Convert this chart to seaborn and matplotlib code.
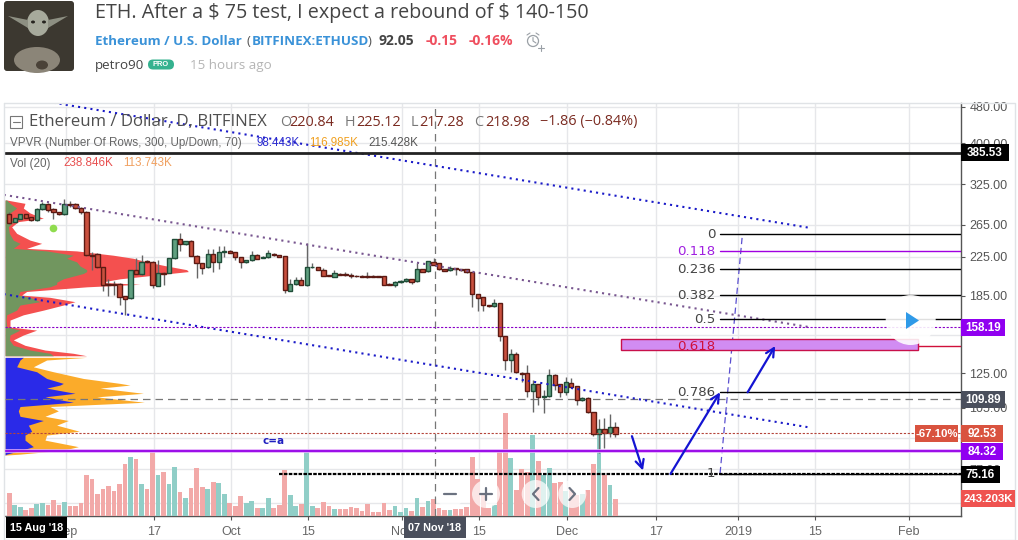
import numpy as np
import pandas as pd
import matplotlib
matplotlib.use("Agg")
import matplotlib.pyplot as plt
import matplotlib.dates as mdates
from matplotlib.patches import Rectangle, Circle, Polygon, Ellipse, FancyBboxPatch
from matplotlib.ticker import NullLocator, FixedLocator, FixedFormatter
import seaborn as sns

# ------- data -------
first_day = "2018-08-22"
opens = [279,269,273,279,275,271.6,286.5,294,286.5,282.5,279,294,294,288,283,227.5,228.5,213.5,196,196,196.6,184.5,182.5,210.3,206.8,220.5,219,194.7,207.8,207.8,223.4,246,240,243.5,226.5,218,213.5,228,219.6,230.3,231.5,230.3,225,219,221.2,227,224,224.5,228.7,227,225.7,189.7,196,200,195.6,213.5,213.5,211,205,203.8,206.8,206,205.4,204.7,204,204,204.2,204,204,196.6,195.6,197.9,198.9,201,198.9,211.3,209.2,219.6,218,211.3,210.3,212.5,211.3,211.3,208.5,186.2,183.4,176.2,175.4,178,150.7,133.5,137.6,125.4,125,114.5,118.2,110.7,111.3,123.9,118.2,113.6,119.2,117,109,110.5,102.6,92,94.4,92.5,95.4]
closes = [267.5,273.5,279,274.5,271.6,286.5,294,285.2,282,279,294,293,288,283,227,226.5,213.5,195.6,195,195,184,182.2,210.3,206.8,219.6,219,195,207.2,206.8,223.4,246,240,243.5,226.5,218,213.2,228,219.6,230.3,231.5,230,224.5,219,221.2,227,223,225,229.2,227,225.3,190.1,196,200,195.6,213.5,214,211,204.7,204.5,207,205.7,205,204.7,204,203.4,203,203.7,203.4,195.6,195.6,198.4,199.3,201.3,198.5,211.3,208.8,220.3,216.3,211.3,210,212.8,211.3,210.6,208.2,186.2,183,176.2,175.4,178,150.7,133.5,137.6,125.6,124.7,114.5,118.2,110.7,111.3,123.7,118,113.6,119.4,116.8,109,110.5,102.6,91.8,94.4,92.5,95.4,92.2]
highs = [282,274.5,280,280,276,288,297,295,287.5,283,301.5,299,295,289,284,231,229,214,201,199,197.5,185,211,223.4,227.2,222,221,221.5,208.5,224,247,253.5,244.5,245,227,218.5,234,234,237.8,237.8,232.5,231,225.5,222,231.8,228,226,233,229.5,227.5,226,201,203,203,241,218,214,213,205.5,210.6,207.5,209,207,205.5,205,208.8,205,204.5,204.5,197,199,200,202,201.5,218,212,221,223.4,218.5,212,215,213,212,212,209,186.7,184,176.7,181.6,178.5,151,141,139.5,125.8,130.3,120.8,118.6,114.9,127.5,124.3,118.6,122.5,121.8,117.4,111,111,103,99,100,102,98]
lows = [266,268,272,273.5,270.5,270,285.5,283,273,278,278.5,289,287,280,226,210.6,213,189.7,185,185.6,176.5,167.8,182,206,205,218,192,194,195.3,207,223,232,239,226,202,206.2,213,208.8,211.7,225,229,221.5,213.2,218.5,220.8,222.5,223.5,224,226.5,225,187.8,189,195.5,195,194,213,210.5,204,204,203,205,204,202,203.5,203,202.5,203.2,203,195,195,193,197.5,198.5,196.2,198.5,208.3,208.8,216,211,209.5,210,205.7,210,207.8,175,171.5,171.5,175,175,147.4,127.1,126,125.2,119.8,111,103,106.5,102.4,111,114.9,111,112,116.5,106.5,108.7,102.3,91,83.4,85.8,90.7,90.4]
volume_k = [333,153,124,81,119,167,182,153,225,153,204,139,139,182,582,525,310,382,425,353,462,739,839,811,453,382,948,582,625,453,696,339,253,396,682,410,382,482,468,310,182,139,282,182,210,110,110,253,110,153,654,296,139,167,948,139,110,196,139,96,96,96,129,110,72,172,57,57,186,86,143,57,114,72,257,129,215,243,114,86,86,100,100,129,844,529,300,114,157,915,1473,829,372,672,629,1158,787,586,686,472,486,358,372,300,315,372,744,1158,586,443,243]

profile_upper_prices = [300,295,288,281,273.5,269,262,253.5,245,241,235,232,227,223.5,219.5,215,211,209,207,201.5,198,196,193.5,189,185.6,183.5,179.5,176.5,172,168,163.6,158,155.5,151.7,148,144,140.6,138.3,136.6]
profile_green = [20,30,50,30,25,40,25,28,40,60,40,140,220,200,230,240,260,260,250,190,170,170,150,60,55,90,120,60,50,20,18,20,60,30,28,40,90,150,160]
profile_red = [20,75,70,90,130,55,35,50,90,125,80,230,340,400,440,500,560,565,510,360,300,420,260,80,65,150,225,190,130,70,30,30,110,70,40,75,135,220,260]
profile_lower_prices = [135.5,133.7,129.2,126,121.8,118.8,117.8,116,113,111,108,105.7,103.4,100.6,98.5,96.2,93.3,91.5,89.2,86.3,84.8,83.1,82.7]
profile_blue = [70,60,50,110,140,190,180,140,225,135,220,60,55,60,130,85,95,75,75,100,65,20,15]
profile_orange = [260,140,100,160,250,360,390,300,430,290,433,150,175,135,205,170,238,140,135,235,190,60,15]

fib_levels = ["0","0.118","0.236","0.382","0.5","0.618","0.786","1"]
fib_prices = [252.3,231.7,211.3,185.3,164.2,143.2,113.6,75.2]
fib_colors = ["#000000","#a000e0","#000000","#000000","#000000","#d0103a","#000000","#000000"]
fib_text_colors = ["#444444","#a020e0","#444444","#444444","#444444","#d0103a","#444444","#444444"]
fib_start = "2018-12-29"

channel_dates = ["2018-08-21","2019-01-14"]
channel_top_from_date = "2018-08-30"
channel_top = [490.5,261]
channel_mid = [308,158]
channel_low = [186.5,95.2]

zone_dates = ["2018-12-11","2019-02-03"]
zone_prices = [140.8,148.4]

level_resistance_line = 380
level_purple_dot = 158.19
level_crosshair = 109.89
level_last = 92.53
level_purple = 84.32
level_target = 75.16
target_from = "2018-10-10"

arrow_paths = [(("2018-12-13",91),("2018-12-15",76.5)),
               (("2018-12-20",75.2),("2018-12-29",113.6)),
               (("2019-01-03",113.6),("2019-01-08",143.5))]
dashed_path_dates = ["2018-12-29","2019-01-02"]
dashed_path_prices = [75.5,248.5]

price_ticks = [480,400,325,265,225,185,152,125,105,90,77,65]
price_tick_labels = ["480.00","400.00","325.00","265.00","225.00","185.00","","125.00","105.00","","77.00",""]
date_ticks = ["2018-09-01","2018-09-17","2018-10-01","2018-10-15","2018-11-01","2018-11-15","2018-12-01","2018-12-17","2019-01-01","2019-01-15","2019-02-01"]
date_tick_labels = ["Sep","17","Oct","15","Nov","15","Dec","17","2019","15","Feb"]
crosshair_date = "2018-11-07"
# ------------------------------------------

W, H = 1018, 540
sns.set_theme(style="white")
plt.rcParams["font.family"] = ["Liberation Sans", "DejaVu Sans"]
GRID = "#e6e7ea"; AX = "#555555"

def num(d):
    return mdates.date2num(pd.Timestamp(d))

d0 = num(first_day)
days = d0 + np.arange(len(opens))
px_per_day = 5.51
xmin = d0 - (9.3 - 5) / px_per_day
xmax = d0 + (961 - 9.3) / px_per_day
ylo = 60.8; yhi = 491

fig = plt.figure(figsize=(W / 100, H / 100), dpi=100, facecolor="white")
pos = [5 / W, 1 - 516 / H, 956 / W, 413.5 / H]
ax = fig.add_axes(pos)
ax.set_yscale("log")
axp = ax.twiny()
axv = ax.twinx()
axc = fig.add_axes(pos, sharex=ax, sharey=ax)
axc.patch.set_visible(False)
ax.set_zorder(0); axp.set_zorder(1); axv.set_zorder(2); axc.set_zorder(3)

# volume profile
def vp(prices, inner, outer, c_in, c_out):
    axp.fill_betweenx(prices, 15, outer, color=c_out, lw=0, zorder=1)
    axp.fill_betweenx(prices, 15, inner, color=c_in, lw=0, zorder=2)
vp(profile_upper_prices, profile_green, profile_red, "#71965f", "#f4504f")
vp(profile_lower_prices, profile_blue, profile_orange, "#2a2ae8", "#fbab2a")
axp.set_xlim(15, 15 + 956 * 3)
axp.axis("off")

# volume
vol_df = pd.DataFrame({"day": days, "vol": volume_k,
                       "dir": ["up" if c >= o else "down" for o, c in zip(opens, closes)]})
sns.barplot(data=vol_df, x="day", y="vol", hue="dir",
            palette={"up": "#90cec7", "down": "#f2a9a8"}, native_scale=True,
            dodge=False, width=0.86, legend=False, saturation=1, linewidth=0, ax=axv)
axv.set_ylim(0, 5913)
axv.axis("off")

# candles
o = np.array(opens, float); c = np.array(closes, float)
hi = np.array(highs, float); lo = np.array(lows, float)
up = c >= o
axc.vlines(days, lo, hi, color="#666666", lw=1.0, zorder=3)
axc.bar(days[up], np.abs(c - o)[up], bottom=np.minimum(o, c)[up], width=0.78,
        color="#5f9f7f", edgecolor="#1f4d38", linewidth=1.0, zorder=4)
axc.bar(days[~up], np.abs(c - o)[~up], bottom=np.minimum(o, c)[~up], width=0.78,
        color="#c9503e", edgecolor="#5b1a13", linewidth=1.0, zorder=4)

# channels
DOT = (0, (1, 2))
def trend(x, y, color, ls, lw):
    sns.lineplot(x=[num(a) for a in x], y=y, color=color, linestyle=ls, linewidth=lw,
                 estimator=None, sort=False, ax=axc, zorder=5, legend=False)
trend([channel_top_from_date, channel_dates[1]], channel_top, "#1a1ac8", DOT, 1.5)
trend(channel_dates, channel_mid, "#77558f", DOT, 1.5)
trend(channel_dates, channel_low, "#1a1ac8", DOT, 1.5)
trend(dashed_path_dates, dashed_path_prices, "#5a4fd0", (0, (5, 3)), 0.9)

# levels
axc.axhline(level_resistance_line, color="#222222", lw=2.0, zorder=5)
axc.axhline(level_purple_dot, color="#8a00c8", lw=0.8, ls=(0, (2, 1.5)), zorder=5)
axc.axhline(level_crosshair, color="#777777", lw=0.9, ls=(0, (6, 4)), zorder=2)
axc.axhline(level_last, color="#b5443a", lw=0.8, ls=(0, (2, 1.5)), zorder=5)
axc.axhline(level_purple, color="#e0a8fa", lw=2.6, zorder=5)
axc.axhline(level_purple, color="#9500e8", lw=1.3, zorder=5)
axc.plot([num(target_from), xmax], [level_target] * 2, color="black", lw=1.6,
         ls=(0, (1.6, 0.6)), zorder=6)
axc.axvline(num(crosshair_date) + 0.3, color="#777777", lw=0.9, ls=(0, (6, 4)), zorder=2)

# fib
for lab, p, col, tc in zip(fib_levels, fib_prices, fib_colors, fib_text_colors):
    axc.plot([num(fib_start), xmax], [p, p], color=col, lw=1.0, zorder=5)
    axc.text(num(fib_start) - 0.85, p, lab, ha="right", va="center", color=tc, fontsize=9.6,
             family=["DejaVu Sans"], zorder=7)

# zone
zx0, zx1 = num(zone_dates[0]), num(zone_dates[1])
axc.add_patch(Rectangle((zx0, zone_prices[0]), zx1 - zx0, zone_prices[1] - zone_prices[0],
                        facecolor="#d18cf2", edgecolor="#c8104a", lw=1, zorder=5))

# arrows
for (a, b) in arrow_paths:
    axc.annotate("", xy=(num(b[0]), b[1]), xytext=(num(a[0]), a[1]),
                 arrowprops=dict(arrowstyle="->", color="#1414d2", lw=1.6,
                                 mutation_scale=15, shrinkA=0, shrinkB=0), zorder=8)

axc.text(num("2018-10-09"), 88.8, "c=a", color="#2020c0", fontsize=7.5, ha="center",
         va="center", family=["DejaVu Sans"], fontweight="bold", zorder=8)
axc.plot([num("2018-08-30")], [260.4], "o", ms=5.5, color="#8fdc4e", mec="none", zorder=6)

# axes set-up
ax.set_xlim(xmin, xmax); ax.set_ylim(ylo, yhi)
axc.set_xlim(xmin, xmax); axc.set_ylim(ylo, yhi)
axc.axis("off")
ax.yaxis.set_major_locator(FixedLocator(price_ticks))
ax.yaxis.set_major_formatter(FixedFormatter(price_tick_labels))
ax.yaxis.set_minor_locator(NullLocator())
ax.yaxis.tick_right()
ax.set_xticks([num(d) + 0.3 for d in date_ticks])
ax.set_xticklabels(date_tick_labels)
ax.tick_params(axis="y", labelsize=9, labelcolor="#555555", length=3, width=0.8, color=AX, pad=3, right=True)
ax.tick_params(axis="x", labelsize=9, labelcolor="#666666", length=3, width=0.8, color=AX, pad=4, bottom=True)
ax.grid(True, color=GRID, lw=1)
ax.set_axisbelow(True)
for s in ["top", "left"]:
    ax.spines[s].set_visible(False)
for s in ["right", "bottom"]:
    ax.spines[s].set_color(AX); ax.spines[s].set_linewidth(1.0)

# overlay in figure pixels: page furniture, tags and buttons
ov = fig.add_axes([0, 0, 1, 1], zorder=10)
ov.set_xlim(0, W); ov.set_ylim(H, 0); ov.axis("off")

ov.plot([4, 1015, 1015, 4, 4], [102.5, 102.5, 539.5, 539.5, 102.5], color="#e0e3e6", lw=1)

def tag(x0, x1, y0, y1, color, text, size=8.4):
    ov.add_patch(Rectangle((x0, y0), x1 - x0, y1 - y0, facecolor=color, edgecolor="none", zorder=5))
    ov.text((x0 + x1) / 2, (y0 + y1) / 2 + 0.3, text, color="white", fontsize=size, fontweight="bold",
            ha="center", va="center", zorder=6)

tag(961, 1009, 144.3, 160.7, "#000000", "385.53")
tag(961, 1005, 319, 335.7, "#9000f0", "158.19")
tag(961, 1005, 391, 408, "#4a4f5c", "109.89")
tag(915, 958, 425, 441.7, "#d9533f", "-67.10%", 8.2)
tag(961, 1003, 425, 441.7, "#d9533f", "92.53")
tag(961, 1003, 443, 459.7, "#9000f0", "84.32")
tag(961, 1000, 466, 482.7, "#000000", "75.16")
tag(961, 1015, 490, 506.7, "#ef5350", "243.203K", 8.2)
tag(6, 66.7, 517, 538, "#000000", "15 Aug '18", 7.8)
tag(404, 466, 516.5, 538, "#4a4f5c", "07 Nov '18", 7.8)

# play + nav buttons
ov.add_patch(Circle((910.7, 320), 25, facecolor="white", alpha=0.88, edgecolor="none", zorder=3))
ov.add_patch(Polygon([(906, 312), (919, 320.5), (906, 329)], facecolor="#2f9ae8", edgecolor="none", zorder=4))
for cx in (450, 486, 535.7, 572.3):
    ov.add_patch(Circle((cx, 494), 14, facecolor="white", alpha=0.72, edgecolor="none", zorder=3))
gly = "#6b7280"
ov.plot([444, 456], [494, 494], color=gly, lw=1.6, zorder=4)
ov.plot([480, 492], [494, 494], color=gly, lw=1.6, zorder=4)
ov.plot([486, 486], [488, 500], color=gly, lw=1.6, zorder=4)
ov.plot([538.5, 533, 538.5], [488, 494, 500], color=gly, lw=1.6, zorder=4)
ov.plot([569.5, 575, 569.5], [488, 494, 500], color=gly, lw=1.6, zorder=4)

# chart legend rows
ov.add_patch(Rectangle((10.5, 116), 12, 12, facecolor="none", edgecolor="#777777", lw=0.8))
ov.plot([13, 20.5], [122, 122], color="#777777", lw=0.8)
ov.text(29, 122, "Ethereum / Dollar, D, BITFINEX", fontsize=12.1, color="#4f4f4f", va="center",
        family=["Open Sans"], fontweight="medium")
dk = "#7a2a20"; g = "#777777"
for x, t, col in [(280, "O", g), (289, "220.84", dk), (345, "H", g), (356, "225.12", dk),
                  (411, "L", g), (419, "217.28", dk), (474, "C", g), (485, "218.98", dk),
                  (540, "−1.86 (−0.84%)", dk)]:
    ov.text(x, 122, t, fontsize=10.4, color=col, va="center", family=["Open Sans"])
ov.text(10, 143, "VPVR (Number Of Rows, 300, Up/Down, 70)", fontsize=8.4, color="#666666", va="center")
ov.text(257, 143, "98.443K", fontsize=8.4, color="#2a2ad0", va="center")
ov.text(309, 143, "116.985K", fontsize=8.4, color="#f0a020", va="center")
ov.text(368, 143, "215.428K", fontsize=8.4, color="#555555", va="center")
ov.text(10, 163.5, "Vol (20)", fontsize=8.4, color="#666666", va="center")
ov.text(63, 163.5, "238.846K", fontsize=8.4, color="#e85050", va="center")
ov.text(123, 163.5, "113.743K", fontsize=8.4, color="#f0a060", va="center")

# page header
ov.text(95, 13, r"ETH. After a \$ 75 test, I expect a rebound of \$ 140-150", fontsize=14.25, color="#444444",
        va="center", family=["Open Sans"])
ov.text(95, 41.5, "Ethereum / U.S. Dollar", fontsize=9.6, color="#3a92d8", va="center",
        fontweight="bold", family=["Open Sans"])
ov.text(246.5, 41.5, "(", fontsize=9.6, color="#555555", va="center", family=["Open Sans"])
ov.text(251.5, 41.5, "BITFINEX:ETHUSD", fontsize=9.6, color="#3a92d8", va="center", fontweight="bold", family=["Open Sans"])
ov.text(368, 41.5, ")", fontsize=9.6, color="#555555", va="center", family=["Open Sans"])
ov.text(379, 41, "92.05", fontsize=10, color="#444444", va="center", fontweight="bold", family=["Open Sans"])
ov.text(426, 41, "-0.15", fontsize=10, color="#ef4f5f", va="center", fontweight="bold", family=["Open Sans"])
ov.text(469, 41, "-0.16%", fontsize=10, color="#ef4f5f", va="center", fontweight="bold", family=["Open Sans"])
ov.add_patch(Circle((533, 41), 5.5, facecolor="none", edgecolor="#9aa0a6", lw=0.9))
ov.plot([533, 533, 536], [37.5, 41, 43], color="#9aa0a6", lw=0.8)
ov.plot([527, 530], [35, 33], color="#9aa0a6", lw=0.8)
ov.plot([536, 539], [33, 35], color="#9aa0a6", lw=0.8)
ov.plot([538, 544], [47.5, 47.5], color="#9aa0a6", lw=0.8)
ov.plot([541, 541], [44.5, 50.5], color="#9aa0a6", lw=0.8)
ov.text(95, 65, "petro90", fontsize=9.6, color="#444444", va="center", family=["Open Sans"])
ov.add_patch(FancyBboxPatch((148, 59.5), 26, 10, boxstyle="round,pad=0,rounding_size=5",
                            facecolor="#35b28f", edgecolor="none", mutation_aspect=1))
ov.text(161, 64.7, "PRO", fontsize=5.4, color="white", ha="center", va="center", fontweight="bold")
ov.text(190, 65, "15 hours ago", fontsize=9.6, color="#b5b5b5", va="center", family=["Open Sans"])

# avatar
ov.add_patch(FancyBboxPatch((4, 1), 70, 70, boxstyle="round,pad=0,rounding_size=3",
                            facecolor="#3c3830", edgecolor="none", zorder=1))
ov.add_patch(Ellipse((37, 60), 46, 26, facecolor="#8b8578", edgecolor="none", zorder=2))
ov.add_patch(Ellipse((38, 23), 22, 26, facecolor="#a7aa9c", edgecolor="none", zorder=2))
ov.add_patch(Polygon([(8, 16), (28, 20), (28, 28)], facecolor="#8d8f82", edgecolor="none", zorder=2))
ov.add_patch(Polygon([(68, 16), (48, 20), (48, 28)], facecolor="#8d8f82", edgecolor="none", zorder=2))
ov.add_patch(Ellipse((33, 22), 4, 3, facecolor="#26241f", edgecolor="none", zorder=3))
ov.add_patch(Ellipse((44, 22), 4, 3, facecolor="#26241f", edgecolor="none", zorder=3))
ov.add_patch(Ellipse((42, 65), 12, 9, facecolor="#4a4238", edgecolor="none", zorder=3))

fig.savefig("out.png", dpi=100, facecolor="white")
